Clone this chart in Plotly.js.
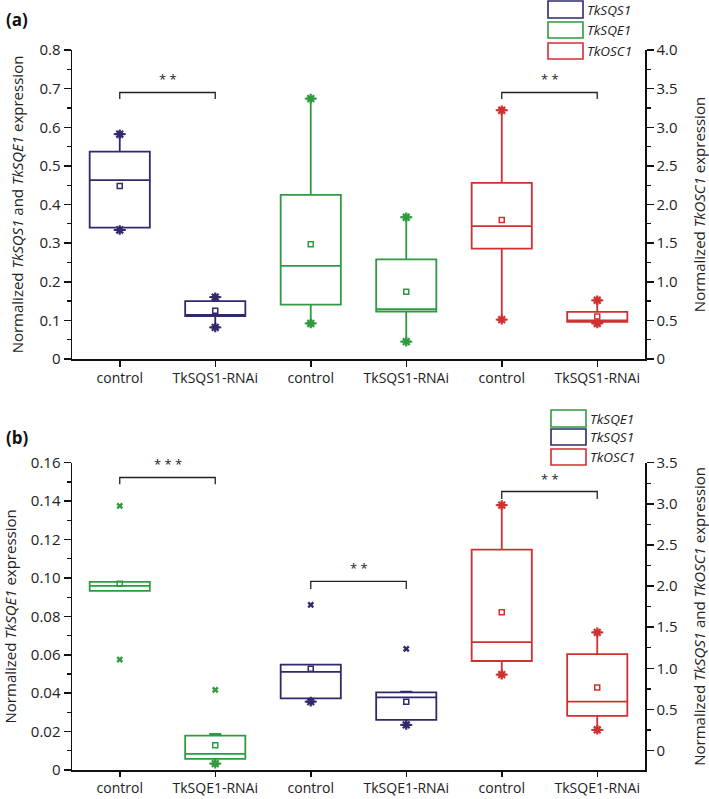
<!DOCTYPE html>
<html><head><meta charset="utf-8">
<script src="https://cdn.plot.ly/plotly-3.0.1.min.js"></script>
<style>body{margin:0;background:#fff}#chart{width:709px;height:799px}</style>
</head><body><div id="chart"></div>
<script>
// ---------- categories ----------
const catsA = ['control','TkSQS1-RNAi','control','TkSQS1-RNAi','control','TkSQS1-RNAi'];
const catsB = ['control','TkSQE1-RNAi','control','TkSQE1-RNAi','control','TkSQE1-RNAi'];

// ---------- panel (a) ----------
const genesA = ['TkSQS1','TkSQS1','TkSQE1','TkSQE1','TkOSC1','TkOSC1'];
const sideA  = ['left','left','left','left','right','right'];
const aQ1   = [0.340,0.111,0.141,0.123,1.43,0.48];
const aMed  = [0.463,0.114,0.241,0.129,1.72,0.50];
const aQ3   = [0.537,0.150,0.425,0.258,2.28,0.61];
const aLo   = [0.334,0.082,0.092,0.045,0.51,0.46];
const aHi   = [0.582,0.160,0.674,0.367,3.22,0.76];
const aMean = [0.448,0.125,0.297,0.174,1.80,0.55];
const aStarLo = [1,1,1,1,1,1];
const aStarHi = [1,1,1,1,1,1];

// ---------- panel (b) ----------
const genesB = ['TkSQE1','TkSQE1','TkSQS1','TkSQS1','TkOSC1','TkOSC1'];
const sideB  = ['left','left','right','right','right','right'];
const bQ1   = [0.0933,0.0058,0.635,0.374,1.089,0.422];
const bMed  = [0.0959,0.0084,0.957,0.647,1.318,0.595];
const bQ3   = [0.0980,0.0179,1.045,0.707,2.443,1.173];
const bLo   = [0.0933,0.0033,0.595,0.313,0.924,0.253];
const bHi   = [0.0980,0.0188,1.045,0.716,2.984,1.438];
const bMean = [0.0970,0.0129,0.996,0.595,1.683,0.767];
const bStarLo = [0,1,1,1,1,1];
const bStarHi = [0,0,0,0,1,1];
// outliers
const bOutBox = [0,0,1,2,3];
const bOutVal = [0.1375,0.0575,0.0417,1.771,1.237];

// significance
const sigA = [{from:0,to:1,label:'* *'},{from:4,to:5,label:'* *'}];
const sigB = [{from:0,to:1,label:'* * *'},{from:2,to:3,label:'* *'},{from:4,to:5,label:'* *'}];

const colors = {TkSQS1:'#2e2a6c', TkSQE1:'#2f9a40', TkOSC1:'#cf3030'};

// ---------- geometry helpers (layout only) ----------
const W=709,H=799,L=72,R=64,T=50,B=29;
const pw=W-L-R, ph=H-T-B;
const px = x => (x-L)/pw;
const py = y => (H-B-y)/ph;

const traces=[];
function addPanel(genes, side, q1, med, q3, lo, hi, mean, sLo, sHi, xa, yl, yr){
  for(let i=0;i<genes.length;i++){
    const c=colors[genes[i]];
    const ya = side[i]==='left'?yl:yr;
    traces.push({type:'box', x:[i], q1:[q1[i]], median:[med[i]], q3:[q3[i]],
      lowerfence:[lo[i]], upperfence:[hi[i]], width:0.63, whiskerwidth:0.2,
      line:{color:c,width:1.8}, fillcolor:'rgba(0,0,0,0)', boxpoints:false,
      xaxis:xa, yaxis:ya, showlegend:false, hoverinfo:'skip'});
    traces.push({type:'scatter', mode:'markers', x:[i], y:[mean[i]], xaxis:xa, yaxis:ya,
      marker:{symbol:'square-open', size:5, color:c, line:{width:1.5,color:c}},
      showlegend:false, hoverinfo:'skip'});
    const sx=[],sy=[];
    if(sLo[i]){sx.push(i);sy.push(lo[i]);}
    if(sHi[i]){sx.push(i);sy.push(hi[i]);}
    if(sx.length) traces.push({type:'scatter', mode:'markers', x:sx, y:sy, xaxis:xa, yaxis:ya,
      marker:{symbol:'asterisk-open', size:8, color:c, line:{width:2.2,color:c}},
      showlegend:false, hoverinfo:'skip'});
  }
}
addPanel(genesA, sideA, aQ1,aMed,aQ3,aLo,aHi,aMean,aStarLo,aStarHi,'x','y','y2');
addPanel(genesB, sideB, bQ1,bMed,bQ3,bLo,bHi,bMean,bStarLo,bStarHi,'x2','y3','y4');
// outliers (b)
for(let k=0;k<bOutBox.length;k++){
  const i=bOutBox[k];
  const c=colors[genesB[i]];
  traces.push({type:'scatter', mode:'markers', x:[i], y:[bOutVal[k]], xaxis:'x2',
    yaxis: sideB[i]==='left'?'y3':'y4',
    marker:{symbol:'x', size:6, color:c, line:{width:0}}, showlegend:false, hoverinfo:'skip'});
}

const font={family:'Open Sans, sans-serif', size:15, color:'#222'};
const xfont={family:'Open Sans, sans-serif', size:14, color:'#222'};
const tfont={family:'Open Sans, sans-serif', size:15, color:'#222'};
function rng(a,b,s){const o=[];for(let v=a;v<=b+1e-9;v+=s)o.push(+v.toFixed(4));return o;}
function fmt(v,d){return v===0?'0':v.toFixed(d);}

const axLine={showline:true, linecolor:'#111', linewidth:1.5, ticks:'outside', ticklen:7,
  tickwidth:1.5, tickcolor:'#111', showgrid:false, zeroline:false, automargin:false, tickfont:font};

function yax(domain, range, major, minor, dec, extra){
  return Object.assign({}, axLine, {domain, range, tickmode:'array', tickvals:major,
    ticktext:major.map(v=>fmt(v,dec)),
    minor:{tickmode:'array', tickvals:minor, ticks:'outside', ticklen:4, tickwidth:1.2, tickcolor:'#111', showgrid:false}}, extra);
}

const layout={
  width:W, height:H, margin:{l:L,r:R,t:T,b:B}, paper_bgcolor:'#fff', plot_bgcolor:'#fff',
  boxmode:'overlay', showlegend:false,
  xaxis:Object.assign({},axLine,{domain:[0,1], range:[-0.5,5.5], anchor:'y', tickmode:'array',
    tickvals:[0,1,2,3,4,5], ticktext:catsA, ticklen:6, tickfont:xfont}),
  xaxis2:Object.assign({},axLine,{domain:[0,1], range:[-0.5,5.5], anchor:'y3', tickmode:'array',
    tickvals:[0,1,2,3,4,5], ticktext:catsB, ticklen:5, tickfont:xfont}),
  yaxis:yax([py(359),1],[0,0.8],rng(0,0.8,0.1),rng(0.05,0.75,0.1),1,
    {anchor:'x', title:{text:'Normalized <i>TkSQS1</i> and <i>TkSQE1</i> expression', font:tfont, standoff:12}}),
  yaxis2:yax([py(359),1],[0,4],rng(0,4,0.5),rng(0.25,3.75,0.5),1,
    {anchor:'x', overlaying:'y', side:'right', title:{text:'Normalized <i>TkOSC1</i> expression', font:tfont, standoff:18}}),
  yaxis3:yax([0,py(462.7)],[0,0.16],rng(0,0.16,0.02),rng(0.01,0.15,0.02),2,
    {anchor:'x2', title:{text:'Normalized <i>TkSQE1</i> expression', font:tfont, standoff:12}}),
  yaxis4:yax([0,py(462.7)],[-0.236,3.5],rng(0,3.5,0.5),rng(0.25,3.25,0.5),1,
    {anchor:'x2', overlaying:'y3', side:'right', title:{text:'Normalized <i>TkSQS1</i> and <i>TkOSC1</i> expression', font:tfont, standoff:18}}),
  shapes:[], annotations:[]
};

// significance brackets
function addSig(list, xa, ya, heights){
  list.forEach((s,k)=>{
    const [top,bot]=heights[k];
    layout.shapes.push({type:'path', xref:xa, yref:ya,
      path:`M ${s.from},${bot} L ${s.from},${top} L ${s.to},${top} L ${s.to},${bot}`,
      line:{color:'#222', width:1.3}});
    layout.annotations.push({xref:xa, yref:ya, x:(s.from+s.to)/2, y:top, yanchor:'bottom', yshift:2,
      text:s.label, showarrow:false, font:{family:'Open Sans, sans-serif', size:13, color:'#222'}});
  });
}
addSig(sigA,'x','y',[[0.690,0.673],[0.690,0.673]]);
addSig(sigB,'x2','y3',[[0.1523,0.1488],[0.0982,0.0942],[0.145,0.1411]]);

// custom legends
function addLegend(genes, x0, x1, ys){
  genes.forEach((g,k)=>{
    layout.shapes.push({type:'rect', xref:'paper', yref:'paper', x0:px(x0), x1:px(x1),
      y0:py(ys[k][1]), y1:py(ys[k][0]), line:{color:colors[g], width:1.6}, fillcolor:'rgba(0,0,0,0)'});
    layout.annotations.push({xref:'paper', yref:'paper', x:px(x1+3), y:py((ys[k][0]+ys[k][1])/2),
      xanchor:'left', yanchor:'middle', showarrow:false, text:'<i>'+g+'</i>', borderpad:0,
      font:{family:'Open Sans, sans-serif', size:13.5, color:'#222'}});
  });
}
addLegend(['TkSQS1','TkSQE1','TkOSC1'],548,583,[[1,18],[22,38],[43,59]]);
addLegend(['TkSQE1','TkSQS1','TkOSC1'],551,586,[[410,427],[429,445],[449,465]]);

// panel labels
layout.annotations.push({xref:'paper',yref:'paper',x:px(4),y:py(20),xanchor:'left',yanchor:'middle',
  showarrow:false,text:'<b>(a)</b>',font:{family:'Open Sans, sans-serif',size:17,color:'#111'}});
layout.annotations.push({xref:'paper',yref:'paper',x:px(4),y:py(437),xanchor:'left',yanchor:'middle',
  showarrow:false,text:'<b>(b)</b>',font:{family:'Open Sans, sans-serif',size:17,color:'#111'}});

Plotly.newPlot('chart', traces, layout, {displayModeBar:false, staticPlot:true});
</script>
</body></html>
